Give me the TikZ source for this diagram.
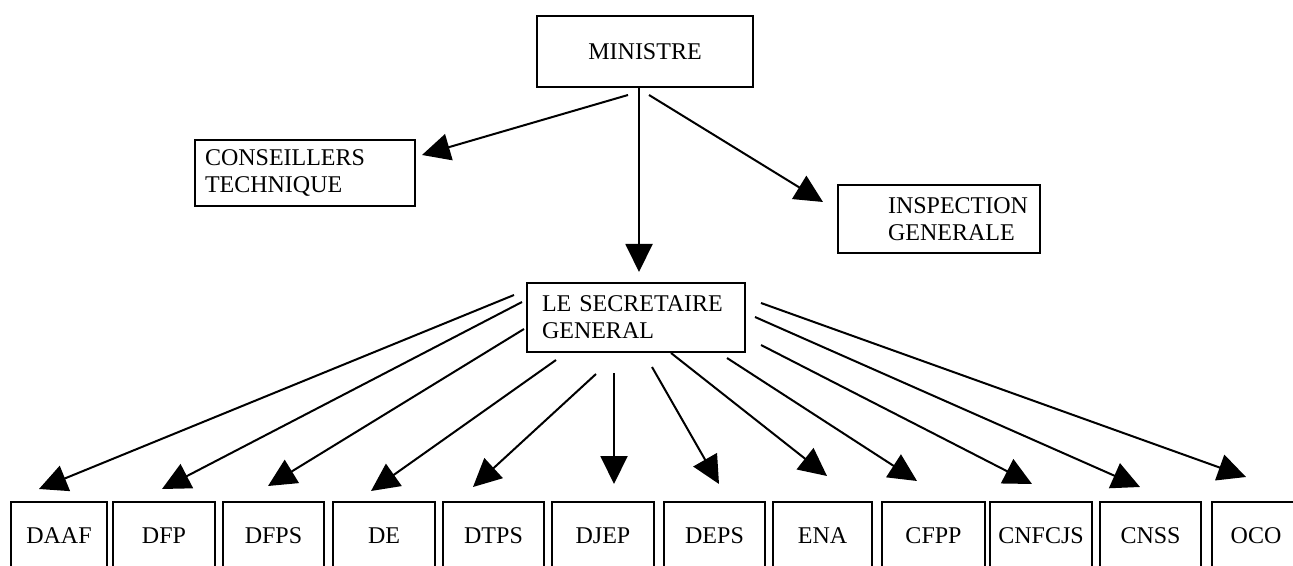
\documentclass[tikz,border=0pt]{standalone}
\usepackage{fontspec}
\setmainfont{Liberation Serif}
\usetikzlibrary{arrows.meta,calc}

\begin{document}
\begin{tikzpicture}[x=0.5pt,y=-0.5pt,font=\fontsize{12}{13.5}\selectfont,
  box/.style={draw=black,line width=1pt,inner sep=0pt},
  unit/.style={box,minimum height=34pt},
  arr/.style={-{Triangle[length=14pt,width=13.5pt]},line width=1pt}]
\clip (0,0) rectangle (1293,566);
%
\node (min) [box,minimum width=108pt,minimum height=35.5pt] at (645,51.5) {MINISTRE};
\node (ct) [box,text width=100pt,inner xsep=5pt,minimum height=33pt,align=left] at (305,173) {CONSEILLERS\\TECHNIQUE};
\node (ig) [box,text width=101pt,minimum height=34pt,align=left] at (939,219) {\hspace*{25pt}INSPECTION\\\hspace*{25pt}GENERALE};
\node (sg) [box,text width=94pt,inner xsep=7.5pt,minimum height=34.5pt,align=left] at (636,317.5) {LE SECRETAIRE\\GENERAL};
%
\node (daaf) [unit,minimum width=48pt] at (59,536) {DAAF};
\node (dfp) [unit,minimum width=51pt] at (164,536) {DFP};
\node (dfps) [unit,minimum width=50.5pt] at (273.5,536) {DFPS};
\node (de) [unit,minimum width=51pt] at (384,536) {DE};
\node (dtps) [unit,minimum width=50.5pt] at (493.5,536) {DTPS};
\node (djep) [unit,minimum width=51pt] at (603,536) {DJEP};
\node (deps) [unit,minimum width=50.5pt] at (714.5,536) {DEPS};
\node (ena) [unit,minimum width=49.5pt] at (822.5,536) {ENA};
\node (cfpp) [unit,minimum width=51.5pt] at (933.5,536) {CFPP};
\node (cnfcjs) [unit,minimum width=51pt] at (1041,536) {CNFCJS};
\node (cnss) [unit,minimum width=50.5pt] at (1150.5,536) {CNSS};
\node (oco) [unit,minimum width=44pt] at (1256,536) {OCO};
%
\path[arr] ($(min)+(-17,43.5)$) edge ($(ct)+(117,-18)$);
\path[arr] ($(min)+(-6,36.5)$) edge ($(sg)+(3,-45.5)$);
\path[arr] ($(min)+(4,43.5)$) edge ($(ig)+(-116,-17)$);
%
\path[arr] ($(sg)+(-122,-22.5)$) edge ($(daaf.north)+(-20,-12)$);
\path[arr] ($(sg)+(-114,-15.5)$) edge ($(dfp.north)+(-2,-12)$);
\path[arr] ($(sg)+(-112,11.5)$) edge ($(dfps.north)+(-5.5,-15)$);
\path[arr] ($(sg)+(-80,42.5)$) edge ($(de.north)+(-13,-10)$);
\path[arr] ($(sg)+(-40,56.5)$) edge ($(dtps.north)+(-20.5,-14)$);
\path[arr] ($(sg)+(-22,55.5)$) edge ($(djep.north)+(11,-17)$);
\path[arr] ($(sg)+(16,49.5)$) edge ($(deps.north)+(4.5,-17)$);
\path[arr] ($(sg)+(35,35.5)$) edge ($(ena.north)+(4.5,-25)$);
\path[arr] ($(sg)+(91,40.5)$) edge ($(cfpp.north)+(-16.5,-20)$);
\path[arr] ($(sg)+(125,27.5)$) edge ($(cnfcjs.north)+(-9,-17)$);
\path[arr] ($(sg)+(119,-0.5)$) edge ($(cnss.north)+(-10.5,-14)$);
\path[arr] ($(sg)+(125,-14.5)$) edge ($(oco.north)+(-10,-24)$);
\end{tikzpicture}
\end{document}
